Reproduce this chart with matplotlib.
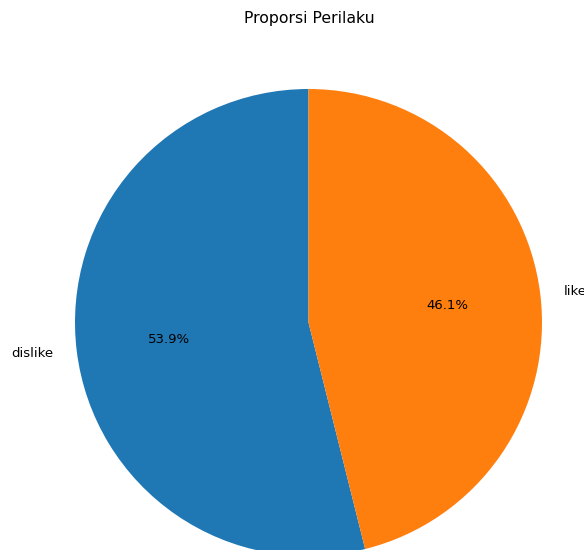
import matplotlib.pyplot as plt

labels = ["dislike", "like"]
counts = [53.9, 46.1]

fig = plt.figure(figsize=(5.84, 5.5), dpi=100)
ax = fig.add_axes([0, 0, 1, 1])

ax.pie(counts, labels=labels, autopct="%1.1f%%", startangle=90,
       colors=["#1f77b4", "#ff7f0e"], textprops={"fontsize": 9.5})

# pie centre sits at (308, 322) px from top-left with radius ~233 px
r = 233.5
cx, cy = 308.5, 550.0 - 322.5
ax.set_xlim(-cx / r, (584.0 - cx) / r)
ax.set_ylim(-cy / r, (550.0 - cy) / r)
ax.set_aspect("auto")
ax.axis("off")

fig.text(309 / 584, 1 - 18 / 550, "Proporsi Perilaku", ha="center", va="center", fontsize=11.3)

plt.savefig("out.png", dpi=100)
plt.close()
